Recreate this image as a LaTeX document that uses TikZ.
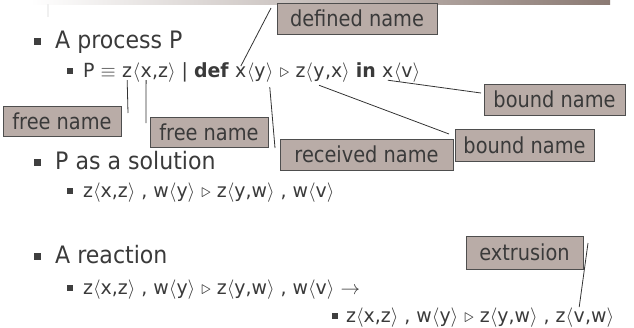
\documentclass[tikz,border=0pt]{standalone}
\usepackage{fix-cm}
\usepackage{fontspec}
\setmainfont{DejaVu Sans}[FakeStretch=0.88]
\newfontfamily\subfnt{DejaVu Sans}[FakeStretch=0.97]
\newfontfamily\topfnt{DejaVu Sans}[FakeStretch=0.92]
\definecolor{tc}{HTML}{3A3A3A}
\definecolor{bc}{HTML}{3F3F3F}
\definecolor{bd}{HTML}{4E4E4E}
\definecolor{bf}{HTML}{B9ACA7}
\definecolor{lc}{HTML}{333333}
\definecolor{barc}{HTML}{8B7A73}
\newcommand\lA{\ensuremath{\langle}}
\newcommand\rA{\ensuremath{\rangle}}
\newcommand\wsp{\kern\fontdimen2\font}
\begin{document}
\begin{tikzpicture}[x=1pt,y=-1pt,
  txt/.style={anchor=base west, inner sep=0pt, text=tc},
  lvlone/.style={txt, font=\topfnt\fontsize{24}{28}\selectfont},
  lvltwo/.style={txt, font=\subfnt\fontsize{19.5}{23}\selectfont},
  chainpart/.style={lvltwo, anchor=base west},
  bulA/.style={fill=bc, minimum size=7pt, inner sep=0pt},
  bulB/.style={fill=bc, minimum size=5.5pt, inner sep=0pt},
  lbl/.style={draw=bd, fill=bf, line width=0.9pt, inner sep=0pt, text=tc, font=\fontsize{22}{25}\selectfont},
  ptr/.style={draw=lc, line width=0.8pt}]
\useasboundingbox (0,0) rectangle (634,327);
\shade[left color=white, right color=barc] (30,0) rectangle (610,4);
\fill[black!6] (47,4) rectangle (49,17);

% level one items
\node[bulA] (b1) at (37,41) {};
\node[lvlone] (t1) at (55,48) {A process P};
\node[bulA] (b2) at (37,162) {};
\node[lvlone] (t2) at (55,169) {P as a solution};
\node[bulA] (b3) at (37,256) {};
\node[lvlone] (t3) at (55,263) {A reaction};

% sub item 1, split for the pointers
\node[bulB] (sb1) at (70,71) {};
\node[lvltwo] (s1a) at (83,77) {P\wsp$\equiv$\wsp};
\node[chainpart] (s1z) at (s1a.base east) {z};
\node[chainpart] (s1b) at (s1z.base east) {\lA};
\node[chainpart] (s1x) at (s1b.base east) {x};
\node[chainpart] (s1c) at (s1x.base east) {,z\rA\wsp|\wsp\textbf{def}\wsp};
\node[chainpart] (s1dx) at (s1c.base east) {x};
\node[chainpart] (s1d) at (s1dx.base east) {\lA y};
\node[chainpart] (s1r) at (s1d.base east) {\rA};
\node[chainpart] (s1e) at (s1r.base east) {\wsp$\triangleright$\wsp z\lA};
\node[chainpart] (s1y) at (s1e.base east) {y};
\node[chainpart] (s1f) at (s1y.base east) {,x\rA\wsp\textbf{in}\wsp};
\node[chainpart] (s1xv) at (s1f.base east) {x};
\node[chainpart] (s1g) at (s1xv.base east) {\lA v\rA};

% sub item 2
\node[bulB] (sb2) at (70,191) {};
\node[lvltwo] (s2) at (83,197) {z\lA x,z\rA\ , w\lA y\rA\ $\triangleright$ z\lA y,w\rA\ , w\lA v\rA};

% sub item 3
\node[bulB] (sb3) at (70,288) {};
\node[lvltwo] (s3) at (83,294) {z\lA x,z\rA\ , w\lA y\rA\ $\triangleright$ z\lA y,w\rA\ , w\lA v\rA\ $\rightarrow$};

% sub item 4
\node[bulB] (sb4) at (335,316) {};
\node[lvltwo] (s4a) at (346,322) {z\lA x,z\rA\ , w\lA y\rA\ $\triangleright$ z\lA y,w\rA\ , z\lA};
\node[chainpart] (s4v) at (s4a.base east) {v};
\node[chainpart] (s4b) at (s4v.base east) {,w\rA};

% labels
\node[lbl, minimum width=160pt, minimum height=31pt] (ldef) at (357,18.5) {defined name};
\node[lbl, minimum width=141pt, minimum height=31pt] (lbu) at (554.5,99.5) {bound name};
\node[lbl, minimum width=118pt, minimum height=30pt] (lfa) at (62,121) {free name};
\node[lbl, minimum width=118pt, minimum height=30pt] (lfb) at (209,132) {free name};
\node[lbl, minimum width=173pt, minimum height=31pt] (lrec) at (366.5,154.5) {received name};
\node[lbl, minimum width=139pt, minimum height=32pt] (lbl2) at (524.5,145) {bound name};
\node[lbl, minimum width=117pt, minimum height=33pt] (lext) at (524.5,252.5) {extrusion};

% free ends of the pointers
\coordinate (edef) at (271,8);
\coordinate (efa) at (128,113);
\coordinate (efb) at (146,123);
\coordinate (erec) at (275,148);
\coordinate (ebl) at (449,134);
\coordinate (ebu) at (481,93);
\coordinate (eext) at (588,243);

\draw[ptr] (s1dx.north) -- (edef);
\draw[ptr] ([yshift=-3pt]s1z.south) -- (efa);
\draw[ptr] ([yshift=-3pt]s1x.south) -- (efb);
\draw[ptr] ([yshift=-5pt]s1r.south) -- (erec);
\draw[ptr] ([yshift=-4pt]s1y.south) -- (ebl);
\draw[ptr] ([yshift=-3pt]s1xv.south) -- (ebu);
\draw[ptr] (eext) -- ([yshift=4pt]s4v.north);
\end{tikzpicture}
\end{document}
